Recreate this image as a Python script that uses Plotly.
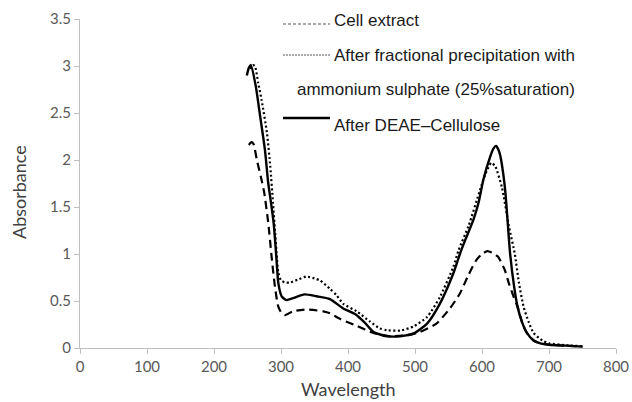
import plotly.graph_objects as go

# ---- data ----
wl_cell = [252, 256, 259, 264, 270, 275, 281, 286, 291, 296, 301, 306, 318, 338, 363, 373, 388,
           413, 438, 463, 488, 507, 532, 552, 567, 580, 592, 600, 608, 616, 624, 634, 640, 647,
           653, 660, 667, 677, 687, 700, 725, 750]
abs_cell = [2.16, 2.19, 2.17, 2.00, 1.82, 1.65, 1.33, 0.97, 0.65, 0.44, 0.37, 0.35, 0.39, 0.41,
            0.39, 0.37, 0.31, 0.235, 0.16, 0.125, 0.135, 0.17, 0.26, 0.42, 0.58, 0.78, 0.94,
            1.00, 1.03, 1.01, 0.97, 0.83, 0.69, 0.55, 0.44, 0.27, 0.16, 0.08, 0.05, 0.035,
            0.025, 0.015]

wl_frac = [254, 258, 261, 266, 271, 279, 284, 288, 291, 294, 296, 300, 305, 313, 326, 338, 350,
           358, 373, 383, 393, 413, 433, 447, 458, 478, 498, 518, 537, 557, 565, 580, 597, 605,
           614, 620, 630, 640, 649, 655, 662, 670, 677, 690, 700, 725, 750]
abs_frac = [2.97, 3.01, 3.00, 2.82, 2.64, 2.29, 1.93, 1.55, 1.25, 0.95, 0.80, 0.72, 0.70, 0.695,
            0.73, 0.76, 0.74, 0.72, 0.63, 0.56, 0.47, 0.39, 0.28, 0.21, 0.19, 0.185, 0.23, 0.33,
            0.54, 0.86, 1.04, 1.30, 1.68, 1.85, 1.97, 1.93, 1.70, 1.30, 1.00, 0.70, 0.44, 0.27,
            0.16, 0.08, 0.05, 0.03, 0.02]

wl_deae = [249, 252, 255, 262, 269, 276, 281, 284, 289, 293, 296, 301, 308, 318, 335, 353, 373,
           393, 411, 425, 438, 458, 478, 498, 518, 537, 557, 567, 575, 587, 595, 602, 612, 617,
           621, 626, 634, 642, 648, 653, 660, 667, 677, 687, 700, 725, 750]
abs_deae = [2.90, 2.98, 3.01, 2.80, 2.46, 2.11, 1.75, 1.60, 1.33, 0.97, 0.69, 0.55, 0.51, 0.53,
            0.57, 0.55, 0.52, 0.42, 0.36, 0.27, 0.17, 0.125, 0.125, 0.155, 0.26, 0.47, 0.79,
            1.00, 1.15, 1.36, 1.55, 1.79, 2.03, 2.12, 2.15, 2.08, 1.72, 1.00, 0.65, 0.44, 0.27,
            0.16, 0.08, 0.05, 0.035, 0.025, 0.015]

legend_labels = ["Cell extract", "After fractional precipitation with",
                 "ammonium sulphate (25%saturation)", "After DEAE\u2013Cellulose"]
x_title = "Wavelength"
y_title = "Absorbance"
x_ticks = [0, 100, 200, 300, 400, 500, 600, 700, 800]
y_ticks = [0, 0.5, 1, 1.5, 2, 2.5, 3, 3.5]
y_tick_text = ["0", "0.5", "1", "1.5", "2", "2.5", "3", "3.5"]

# ---- figure ----
W, H = 632, 402
ML, MR, MT, MB = 80, 16, 19, 54
PW, PH = W - ML - MR, H - MT - MB


def px(x):
    return (x - ML) / PW


def py(y):
    return (H - MB - y) / PH


fig = go.Figure()
fig.add_trace(go.Scatter(x=wl_cell, y=abs_cell, mode="lines", name=legend_labels[0],
                         line=dict(color="black", width=2.2, dash="8px,5px", shape="spline",
                                   smoothing=0.6)))
fig.add_trace(go.Scatter(x=wl_frac, y=abs_frac, mode="lines", name=legend_labels[1],
                         line=dict(color="black", width=2.2, dash="2px,2.5px", shape="spline",
                                   smoothing=0.6)))
fig.add_trace(go.Scatter(x=wl_deae, y=abs_deae, mode="lines", name=legend_labels[3],
                         line=dict(color="black", width=2.4, shape="spline", smoothing=0.6)))

axis_common = dict(showgrid=False, zeroline=False, showline=True, linecolor="#bfbfbf",
                   linewidth=1, ticks="outside", tickcolor="#bfbfbf", ticklen=5,
                   automargin=False,
                   tickfont=dict(family="Lato", size=15, color="#595959"))

fig.update_xaxes(range=[0, 800], tickvals=x_ticks, **axis_common)
fig.update_yaxes(range=[0, 3.5], tickvals=y_ticks, ticktext=y_tick_text, **axis_common)

title_font = dict(family="Lato", size=18, color="#404040")
fig.add_annotation(x=0.5, y=py(389), xref="paper", yref="paper", text=x_title,
                   showarrow=False, xanchor="center", yanchor="middle", font=title_font)
fig.add_annotation(x=px(19), y=py(192), xref="paper", yref="paper", text=y_title,
                   showarrow=False, xanchor="center", yanchor="middle", textangle=-90,
                   font=title_font)

# manual legend
legend_font = dict(family="Liberation Sans, Arial", size=17, color="#1a1a1a")
text_items = [(332, 21, legend_labels[0]), (332, 55, legend_labels[1]),
              (295, 90, legend_labels[2]), (332, 125, legend_labels[3])]
for tx, ty, t in text_items:
    fig.add_annotation(x=px(tx), y=py(ty), xref="paper", yref="paper", text=t, showarrow=False,
                       xanchor="left", yanchor="middle", font=legend_font)

sample_styles = [(24, dict(color="#555555", width=1.2, dash="3px,2px")),
                 (55, dict(color="#555555", width=1.0, dash="2px,1px")),
                 (118, dict(color="black", width=2.5))]
for sy, st in sample_styles:
    fig.add_shape(type="line", xref="paper", yref="paper", x0=px(283), x1=px(330),
                  y0=py(sy), y1=py(sy), line=st)

fig.update_layout(width=W, height=H, margin=dict(l=ML, r=MR, t=MT, b=MB),
                  paper_bgcolor="white", plot_bgcolor="white", showlegend=False)

fig.write_html("out.html")
